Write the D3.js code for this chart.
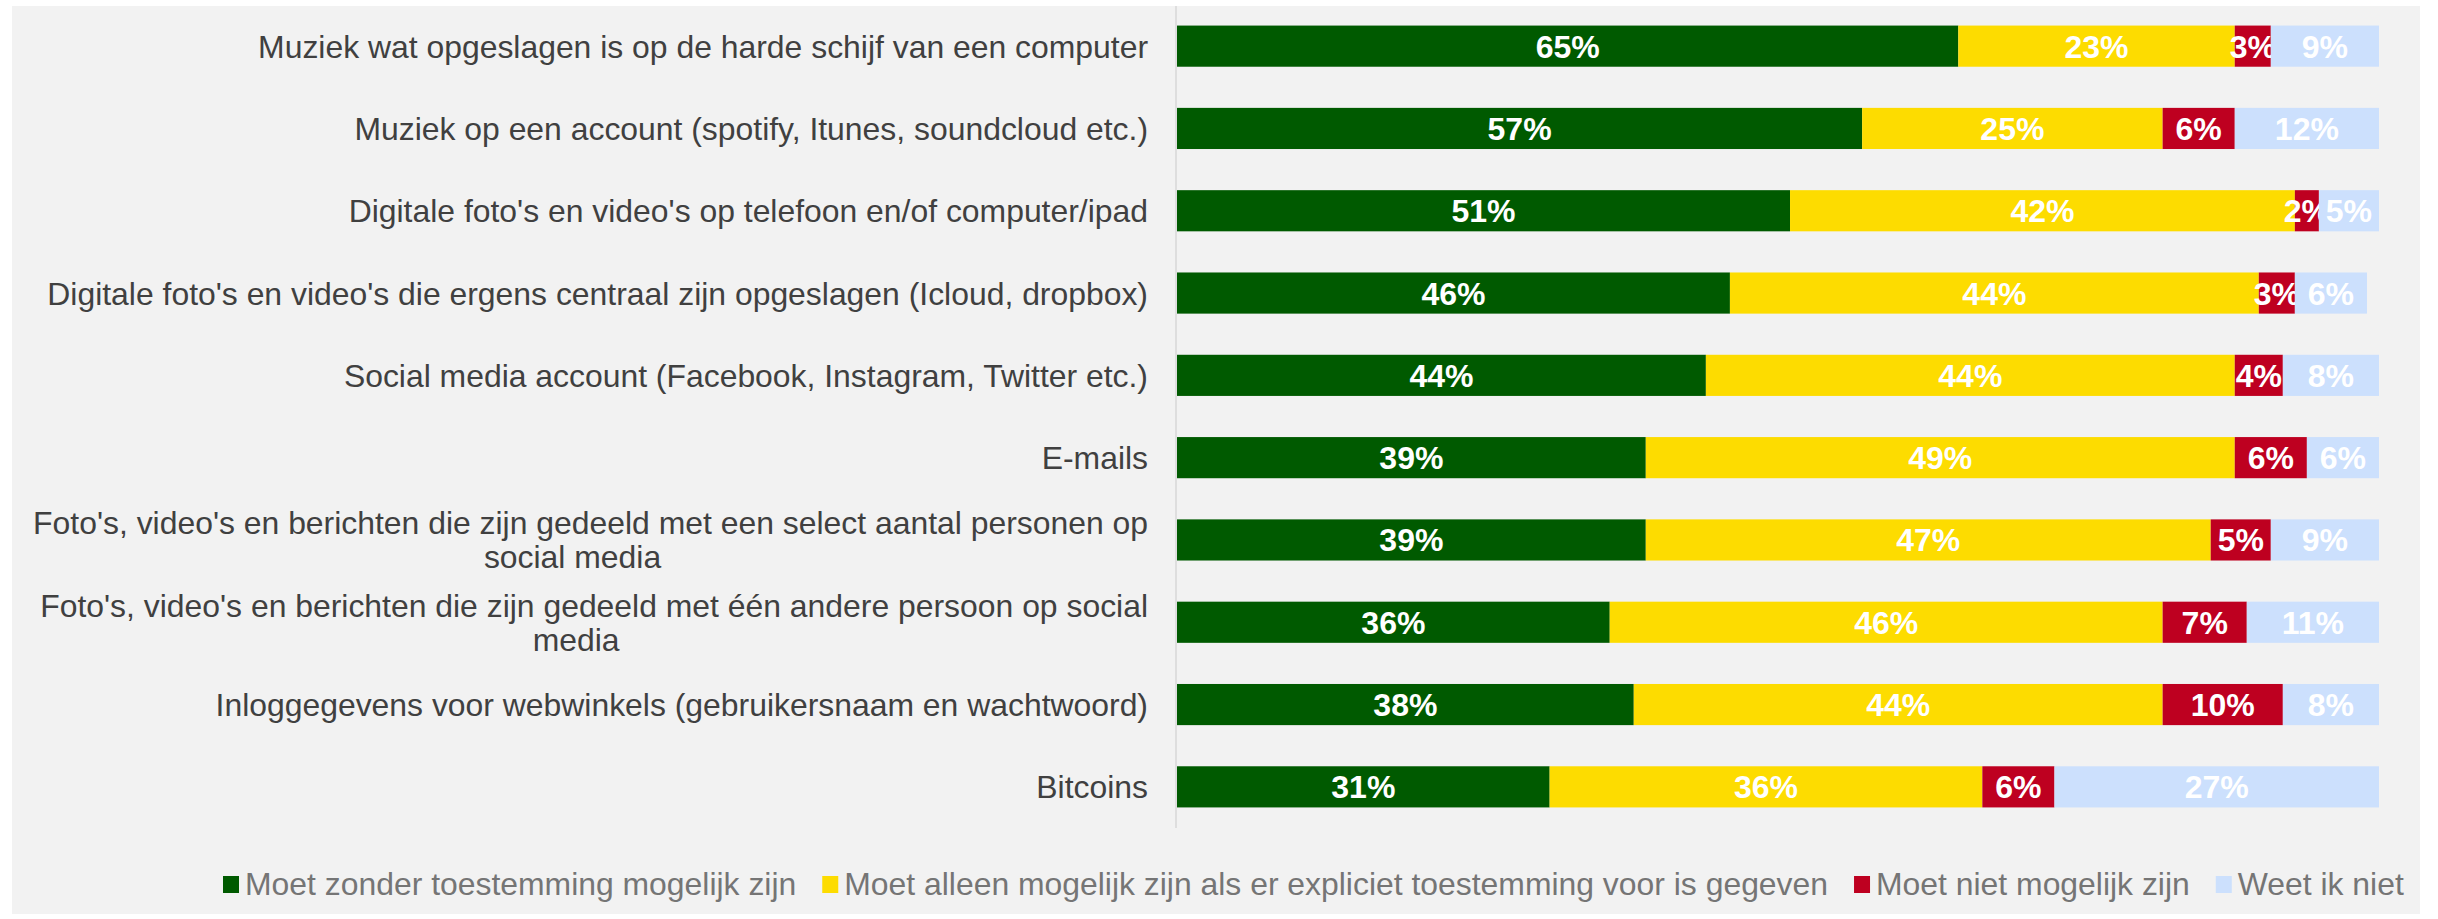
<!DOCTYPE html>
<html>
<head>
<meta charset="utf-8">
<script src="https://cdn.jsdelivr.net/npm/d3@7"></script>
<style>
  body { margin: 0; background: #ffffff; }
  svg text { font-family: "Liberation Sans", Arial, sans-serif; }
</style>
</head>
<body>
<div id="chart"></div>
<script>
// categories, top to bottom (long ones split into lines)
const categories = [
  ["Muziek wat opgeslagen is op de harde schijf van een computer"],
  ["Muziek op een account (spotify, Itunes, soundcloud etc.)"],
  ["Digitale foto's en video's op telefoon en/of computer/ipad"],
  ["Digitale foto's en video's die ergens centraal zijn opgeslagen (Icloud, dropbox)"],
  ["Social media account (Facebook, Instagram, Twitter etc.)"],
  ["E-mails"],
  ["Foto's, video's en berichten die zijn gedeeld met een select aantal personen op", "social media"],
  ["Foto's, video's en berichten die zijn gedeeld met één andere persoon op social", "media"],
  ["Inloggegevens voor webwinkels (gebruikersnaam en wachtwoord)"],
  ["Bitcoins"]
]

const seriesNames = [
  "Moet zonder toestemming mogelijk zijn",
  "Moet alleen mogelijk zijn als er expliciet toestemming voor is gegeven",
  "Moet niet mogelijk zijn",
  "Weet ik niet"
]
const seriesColors = ["#005a00", "#fddc00", "#be0020", "#cce0fd"]

// percentages per series, same order as categories
const zonder   = [65, 57, 51, 46, 44, 39, 39, 36, 38, 31]
const expliciet = [23, 25, 42, 44, 44, 49, 47, 46, 44, 36]
const nietMogelijk = [3, 6, 2, 3, 4, 6, 5, 7, 10, 6]
const weetNiet = [9, 12, 5, 6, 8, 6, 9, 11, 8, 27]

const values = [zonder, expliciet, nietMogelijk, weetNiet]

const width = 2438
const height = 919

let svg = d3.select("#chart")
    .append("svg")
    .attr("width", width)
    .attr("height", height)

// gray panel
svg.append("rect")
    .attr("x", 12).attr("y", 6)
    .attr("width", 2408).attr("height", 908)
    .attr("fill", "#f2f2f2")

let x = d3.scaleLinear().domain([0, 100]).range([1177, 2379])

let y = d3.scaleBand()
    .domain(d3.range(categories.length))
    .range([5, 828])
    .paddingInner(0.5)
    .paddingOuter(0.25)

// vertical axis line
svg.append("line")
    .attr("x1", 1176).attr("x2", 1176)
    .attr("y1", 6).attr("y2", 828)
    .attr("stroke", "#dedede")
    .attr("stroke-width", 2)

// build stack rows
let rows = categories.map((c, i) => {
    let obj = { i: i }
    seriesNames.forEach((s, k) => obj[s] = values[k][i])
    return obj
})

let stack = d3.stack().keys(seriesNames)(rows)

let layers = svg.selectAll(".layer")
    .data(stack)
    .enter().append("g")
    .attr("class", "layer")
    .attr("fill", (d, k) => seriesColors[k])

layers.selectAll("rect")
    .data(d => d)
    .enter().append("rect")
    .attr("x", d => x(d[0]))
    .attr("y", d => y(d.data.i))
    .attr("width", d => x(d[1]) - x(d[0]))
    .attr("height", y.bandwidth())

layers.selectAll("text")
    .data(d => d)
    .enter().append("text")
    .attr("x", d => (x(d[0]) + x(d[1])) / 2)
    .attr("y", d => y(d.data.i) + y.bandwidth() / 2)
    .attr("dy", "0.36em")
    .attr("text-anchor", "middle")
    .attr("fill", "#ffffff")
    .attr("font-weight", "bold")
    .attr("font-size", "32px")
    .text(d => (d[1] - d[0]) + "%")

// category labels, right aligned block, lines centred within it
let labelRight = 1148
let labels = svg.selectAll(".cat")
    .data(categories)
    .enter().append("text")
    .attr("class", "cat")
    .attr("fill", "#404040")
    .attr("font-size", "31.9px")

labels.each(function (lines, i) {
    let t = d3.select(this)
    let cy = y(i) + y.bandwidth() / 2
    let lh = 34
    let top = cy - (lines.length - 1) * lh / 2
    lines.forEach((ln, j) => {
        t.append("tspan")
            .attr("y", top + j * lh)
            .attr("dy", "0.36em")
            .text(ln)
    })
    // measure widest line, then centre the lines in that block
    let w = d3.max(t.selectAll("tspan").nodes(), n => n.getComputedTextLength())
    t.attr("text-anchor", "middle")
    t.selectAll("tspan").attr("x", (d, j) => labelRight - w / 2 - (j > 0 ? 18 : 0))
})

// legend
let legend = svg.append("g").attr("transform", "translate(223, 884)")
let lx = 0
seriesNames.forEach((s, k) => {
    let g = legend.append("g").attr("transform", `translate(${lx}, 0)`)
    g.append("rect")
        .attr("x", 0).attr("y", -8)
        .attr("width", 16).attr("height", 17)
        .attr("fill", seriesColors[k])
    let t = g.append("text")
        .attr("x", 22)
        .attr("y", 0)
        .attr("dy", "0.36em")
        .attr("fill", "#757575")
        .attr("font-size", "31.9px")
        .text(s)
    lx += 22 + t.node().getComputedTextLength() + 26
})
</script>
</body>
</html>
